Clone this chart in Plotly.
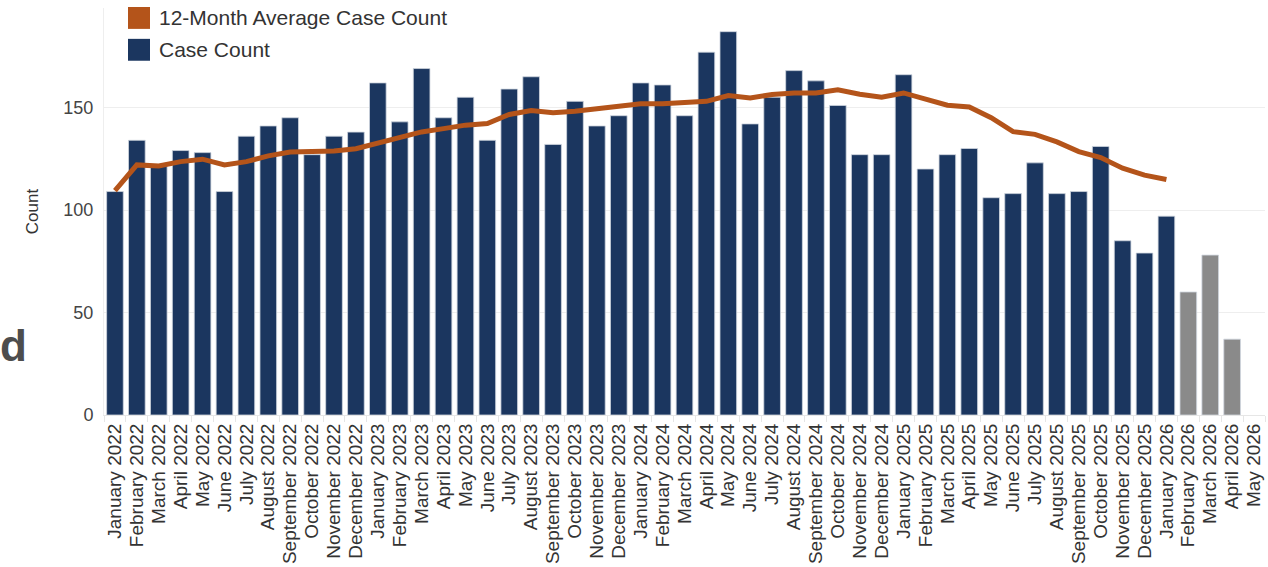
import plotly.graph_objects as go

# Months on the category axis (January 2022 .. May 2026)
month_names = ["January", "February", "March", "April", "May", "June", "July",
               "August", "September", "October", "November", "December"]
months = [f"{m} {y}" for y in range(2022, 2027) for m in month_names][:53]

# Monthly case counts (January 2022 .. April 2026); May 2026 has no data yet
case_count = [
    109, 134, 122, 129, 128, 109, 136, 141, 145, 127, 136, 138,
    162, 143, 169, 145, 155, 134, 159, 165, 132, 153, 141, 146,
    162, 161, 146, 177, 187, 142, 155, 168, 163, 151, 127, 127,
    166, 120, 127, 130, 106, 108, 123, 108, 109, 131, 85, 79,
    97, 60, 78, 37,
]
# Months whose counts are still provisional (drawn in grey)
provisional = ["February 2026", "March 2026", "April 2026"]

# Rolling 12-month average case count (January 2022 .. January 2026)
avg_12m = [
    109.4, 122.0, 121.5, 123.6, 124.8, 122.0, 123.6, 126.4, 128.3, 128.3, 128.8, 129.9,
    132.5, 135.3, 138.1, 139.7, 141.4, 142.2, 146.6, 148.5, 147.4, 148.2, 149.5, 150.6,
    151.8, 151.8, 152.3, 153.0, 155.8, 154.7, 156.3, 157.1, 157.1, 158.7, 156.5, 155.0,
    157.1, 153.9, 151.1, 150.3, 145.0, 138.2, 136.9, 133.2, 128.5, 125.6, 120.4, 117.0,
    114.9,
]

NAVY = "#1b365f"
GREY = "#8a8a8a"
ORANGE = "#b4541a"
FONT = "Liberation Sans, Arial, sans-serif"

# Plot-area geometry in pixels
W, H = 1268, 567
L, R, T, B = 104, 3, 8, 150
PW, PH = W - L - R, H - T - B


def px_x(px):
    return (px - L) / PW


def px_y(py):
    return (H - B - py) / PH


bar_colors = [GREY if m in provisional else NAVY for m in months[:len(case_count)]]

fig = go.Figure()
fig.add_trace(go.Bar(
    x=months[:len(case_count)], y=case_count,
    marker=dict(color=bar_colors, line=dict(color="#cfd5de", width=0.8)),
    name="Case Count", showlegend=False,
))
fig.add_trace(go.Scatter(
    x=months[:len(avg_12m)], y=avg_12m, mode="lines",
    line=dict(color=ORANGE, width=5),
    name="12-Month Average Case Count", showlegend=False,
))

# Legend drawn as swatches + labels
legend_items = [("12-Month Average Case Count", ORANGE, 18),
                ("Case Count", NAVY, 50)]
shapes = []
annotations = []
for label, color, cy in legend_items:
    shapes.append(dict(type="rect", xref="paper", yref="paper",
                       x0=px_x(128), x1=px_x(150), y0=px_y(cy + 11), y1=px_y(cy - 11),
                       fillcolor=color, line=dict(width=0), layer="above"))
    annotations.append(dict(text=label, xref="paper", yref="paper",
                            x=px_x(157), y=px_y(cy), xanchor="left", yanchor="middle",
                            showarrow=False, font=dict(family=FONT, size=21, color="#333333")))

# Heading fragment at the left edge
annotations.append(dict(text="<b>d</b>", xref="paper", yref="paper",
                        x=px_x(-1), y=px_y(347), xanchor="left", yanchor="middle",
                        borderpad=0, showarrow=False,
                        font=dict(family=FONT, size=44, color="#4d4d4d")))

fig.update_layout(
    width=W, height=H,
    margin=dict(l=L, r=R, t=T, b=B),
    paper_bgcolor="white", plot_bgcolor="white",
    bargap=0.24,
    font=dict(family=FONT, color="#333333"),
    shapes=shapes, annotations=annotations,
    showlegend=False,
)
fig.update_xaxes(
    categoryorder="array", categoryarray=months, range=[-0.5, len(months) - 0.5],
    tickmode="array", tickvals=months, ticktext=months,
    tickangle=-90, tickfont=dict(size=19, color="#333333"),
    showline=True, linecolor="#e6e6e6", linewidth=1,
    ticks="outside", tickson="boundaries", ticklen=6, tickcolor="#e6e6e6",
    showgrid=False,
)
fig.update_yaxes(
    range=[0, PH / 2.06], tickvals=[0, 50, 100, 150],
    tickfont=dict(size=18, color="#444444"),
    showgrid=True, gridcolor="#eeeeee", gridwidth=1,
    zeroline=False, showline=True, linecolor="#eeeeee",
    ticklabelstandoff=6,
    title=dict(text="Count", font=dict(size=17, color="#333333"), standoff=20),
)

fig.write_html("out.html")
